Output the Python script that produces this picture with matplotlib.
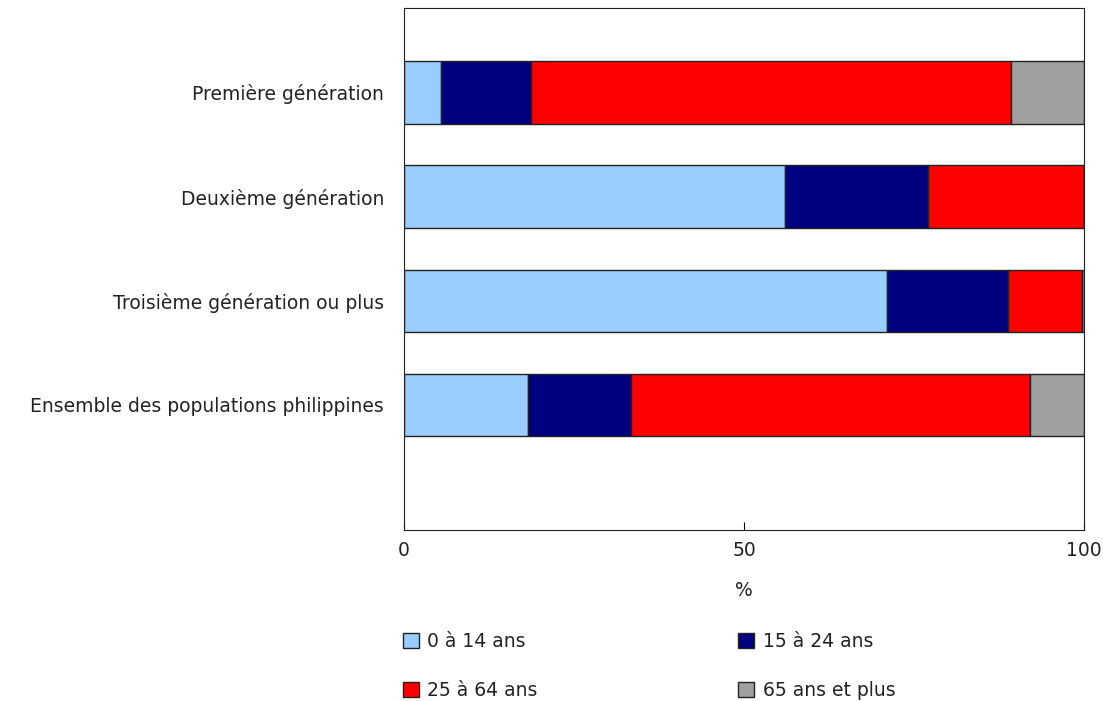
from matplotlib import pyplot as plt
import numpy as np

plt.rcParams['font.family'] = ['DejaVu Sans']

categories = ["Première génération", "Deuxième génération",
              "Troisième génération ou plus", "Ensemble des populations philippines"]
age_groups = ["0 à 14 ans", "15 à 24 ans", "25 à 64 ans", "65 ans et plus"]
age_0_14 = [5.5, 56.0, 71.0, 18.3]
age_15_24 = [13.2, 21.0, 17.8, 15.1]
age_25_64 = [70.5, 23.0, 10.9, 58.6]
age_65_plus = [10.8, 0.0, 0.3, 8.0]
colors = ["#99CCFF", "#000080", "#FF0000", "#A0A0A0"]

fs = 13.5

fig = plt.figure(figsize=(11.03, 7.01), dpi=100)
ax = fig.add_axes([0.3663, 0.2439, 0.6165, 0.7447])

y = np.arange(len(categories))
left = np.zeros(len(categories))
handles = []
for vals, name, col in zip([age_0_14, age_15_24, age_25_64, age_65_plus], age_groups, colors):
    b = ax.barh(y, vals, left=left, height=0.6, color=col, edgecolor="#222222",
                linewidth=1, label=name)
    handles.append(b)
    left += np.array(vals)

ax.set_xlim(0, 100)
ax.set_ylim(4.2, -0.81)
ax.set_yticks(y)
ax.set_yticklabels(categories, fontsize=fs, color="#222222")
ax.tick_params(axis='y', length=0, pad=14.5)
ax.set_xticks([0, 50, 100])
ax.tick_params(axis='x', direction='in', length=6, pad=8, labelsize=fs,
               labelcolor="#222222")
ax.set_xlabel("%", fontsize=fs, labelpad=15, color="#222222")
for s in ax.spines.values():
    s.set_color("#222222")

# row-wise order for a 2-column legend
order = [0, 2, 1, 3]
leg = fig.legend([handles[i] for i in order], [age_groups[i] for i in order],
                 ncol=2, loc='upper left', bbox_to_anchor=(0.3654, 0.099),
                 frameon=False, fontsize=fs, handlelength=0.85, handleheight=0.85,
                 handletextpad=0.45, columnspacing=10.7, labelspacing=1.6,
                 borderpad=0, borderaxespad=0, labelcolor="#222222")

fig.savefig("out.png", dpi=100)
